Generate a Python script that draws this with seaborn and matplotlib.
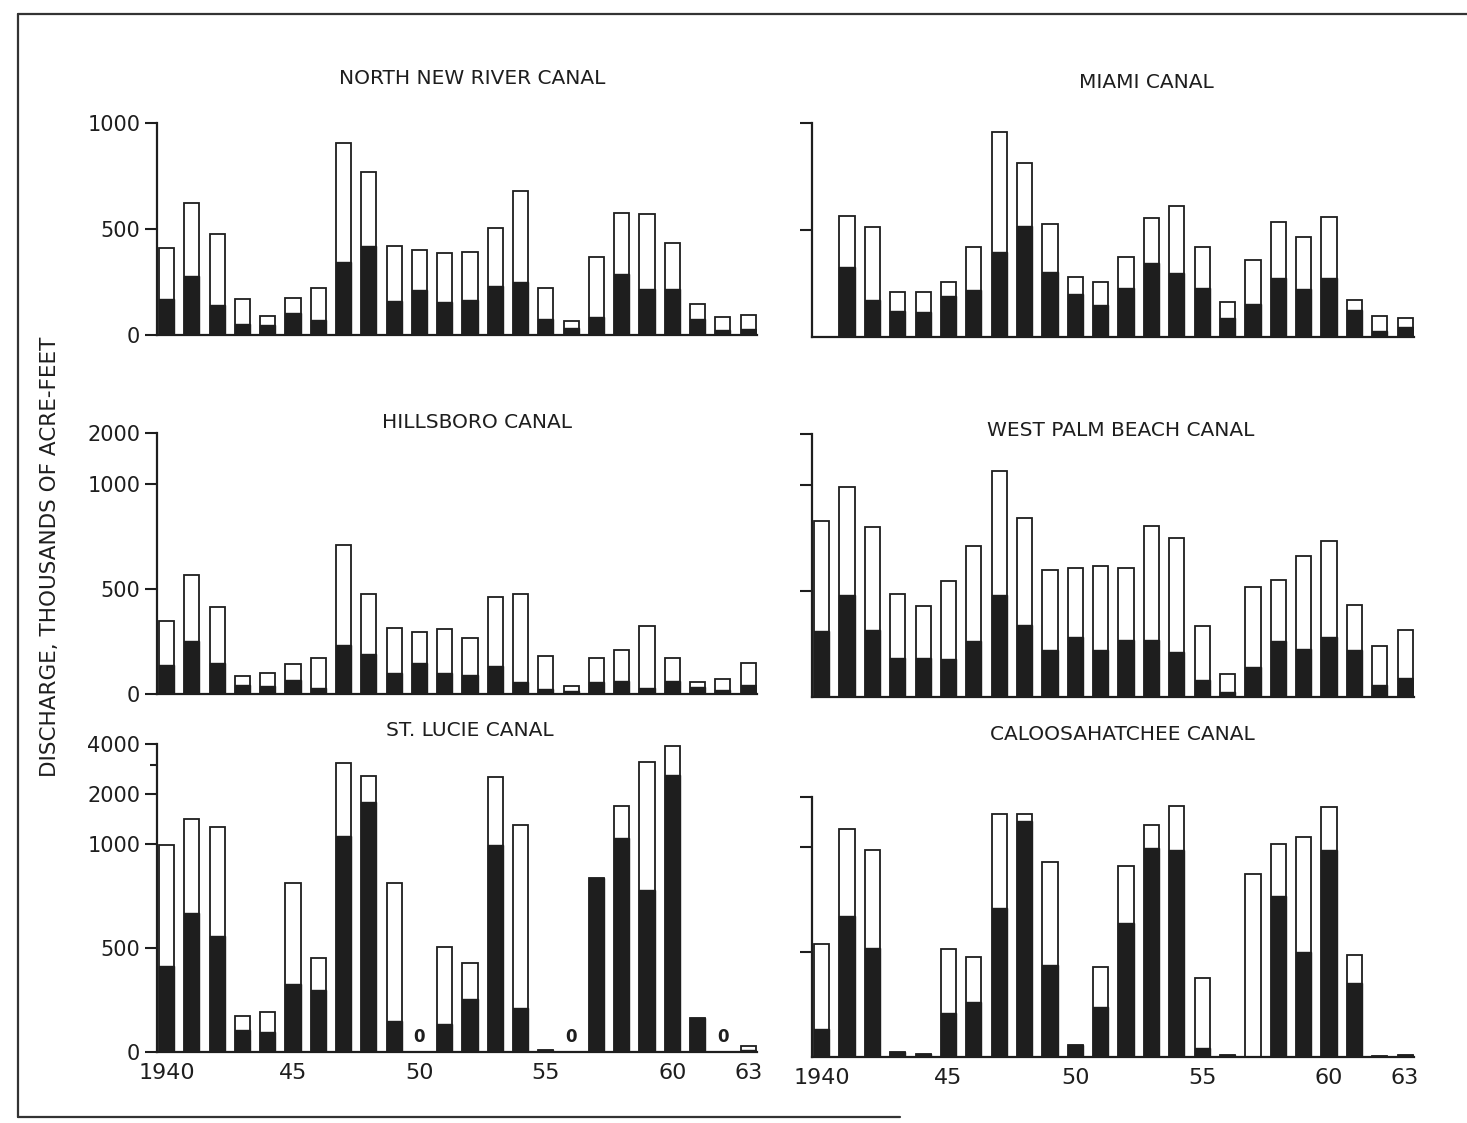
import numpy as np
import pandas as pd
import matplotlib
matplotlib.use("Agg")
import matplotlib.pyplot as plt
import seaborn as sns
from matplotlib.lines import Line2D

# years shown on every panel
years = [str(y) for y in range(1940, 1964)]
xtick_pos = [0, 5, 10, 15, 20, 23]
xtick_labels = ["1940", "45", "50", "55", "60", "63"]

# total discharge (white bar) and black part, thousands of acre-feet
nnr_total = [412, 621, 476, 171, 90, 176, 222, 907, 770, 421, 401, 385,
             390, 503, 681, 222, 68, 366, 577, 571, 432, 148, 85, 93]
nnr_black = [170, 278, 141, 50, 47, 102, 71, 346, 421, 162, 212, 157,
             165, 233, 252, 74, 31, 86, 286, 215, 215, 74, 24, 27]

miami_total = [np.nan, 567, 516, 211, 209, 256, 419, 959, 812, 530, 281, 259,
               372, 558, 614, 422, 164, 359, 536, 466, 562, 175, 97, 91]
miami_black = [np.nan, 328, 175, 122, 117, 191, 219, 398, 520, 305, 200, 148,
               230, 347, 297, 230, 89, 152, 277, 222, 277, 128, 27, 47]

hill_total = [345, 564, 411, 86, 98, 144, 169, 708, 477, 312, 294, 311,
              266, 462, 473, 180, 36, 172, 211, 322, 169, 55, 70, 145]
hill_black = [138, 250, 145, 44, 39, 66, 27, 231, 192, 102, 145, 98,
              91, 133, 55, 23, 15, 59, 64, 28, 64, 33, 17, 44]

wpb_total = [828, 990, 800, 486, 427, 546, 711, 1215, 845, 598, 610, 619,
             607, 808, 752, 333, 108, 519, 550, 666, 737, 433, 240, 317]
wpb_black = [310, 483, 316, 186, 186, 181, 263, 483, 341, 220, 285, 220,
             271, 271, 211, 80, 22, 142, 263, 228, 285, 220, 57, 90]

stl_total = [995, 1414, 1260, 173, 194, 811, 450, 3075, 2567, 811, 0, 505,
             430, 2531, 1301, 8, 0, 834, 1701, 3131, 3908, 161, 0, 30]
stl_black = [411, 666, 556, 105, 97, 326, 298, 1112, 1798, 148, 0, 134,
             255, 995, 210, 8, 0, 834, 1082, 779, 2615, 161, 0, 10]

calo_total = [537, 1290, 988, 22, 13, 515, 476, 1585, 1585, 930, 59, 431,
              911, 1368, 1773, 378, 8, 873, 1041, 1154, 1749, 488, 5, 8]
calo_black = [134, 671, 518, 22, 13, 210, 263, 713, 1430, 438, 59, 240,
              641, 995, 985, 42, 8, 0, 768, 503, 985, 352, 5, 8]

# y axis: linear up to 1000, log-compressed above
def fwd(v):
    v = np.asarray(v, dtype=float)
    return np.where(v <= 1000, v / 1000.0,
                    1 + 0.24 * np.log2(np.maximum(v, 1000) / 1000.0))

def inv(u):
    u = np.asarray(u, dtype=float)
    return np.where(u <= 1, u * 1000.0,
                    1000.0 * 2 ** ((np.clip(u, 1, 10) - 1) / 0.24))

W, H = 1467, 1123
INK = "#1e1e1e"

sns.set_theme(style="white")
plt.rcParams["font.family"] = ["DejaVu Sans"]

fig = plt.figure(figsize=(W / 100, H / 100), dpi=100)

panels = [
    # title, total, black, (x0, x1, top, bottom) px, ymax, ticks, labelled, title pos, bottom row
    ("NORTH NEW RIVER CANAL", nnr_total, nnr_black, (157, 757, 123, 335), 1000,
     [0, 500, 1000], True, (472, 78), False),
    ("MIAMI CANAL", miami_total, miami_black, (812, 1414, 123, 337), 1000,
     [500, 1000], False, (1146, 83), False),
    ("HILLSBORO CANAL", hill_total, hill_black, (157, 757, 433, 694), 2000,
     [0, 500, 1000, 2000], True, (477, 423), False),
    ("WEST PALM BEACH CANAL", wpb_total, wpb_black, (812, 1414, 434, 697), 2000,
     [500, 1000, 2000], False, (1121, 430), False),
    ("ST. LUCIE CANAL", stl_total, stl_black, (157, 757, 744, 1052), 4000,
     [0, 500, 1000, 2000, 4000], True, (470, 730), True),
    ("CALOOSAHATCHEE CANAL", calo_total, calo_black, (812, 1414, 797, 1057), 2000,
     [500, 1000, 2000], False, (1122, 735), True),
]

for title, total, black, box, ymax, ticks, labelled, tpos, bottom_row in panels:
    x0, x1, top, bot = box
    ax = fig.add_axes([x0 / W, 1 - bot / H, (x1 - x0) / W, (bot - top) / H])
    df = pd.DataFrame({"year": years, "total": total, "black": black}).dropna()

    sns.barplot(data=df, x="year", y="total", order=years, color="white",
                edgecolor=INK, linewidth=1.3, width=0.6, errorbar=None,
                saturation=1, ax=ax)
    sns.barplot(data=df, x="year", y="black", order=years, color=INK,
                edgecolor=INK, linewidth=1.0, width=0.6, errorbar=None,
                saturation=1, ax=ax)

    ax.set_yscale("function", functions=(fwd, inv))
    ax.set_ylim(0, ymax)
    ax.set_xlim(-0.38, 23.35)
    ax.set_yticks(ticks)
    if labelled:
        ax.set_yticklabels([str(t) for t in ticks], fontsize=15, color=INK)
    else:
        ax.set_yticklabels([])
    ax.yaxis.set_minor_locator(matplotlib.ticker.NullLocator())
    if ymax == 4000:
        ax.set_yticks([3000], minor=True)
        ax.tick_params(axis="y", which="minor", length=5, width=1.5,
                       color=INK, left=True)
    ax.tick_params(axis="y", which="major", length=9, width=1.5, color=INK,
                   left=True, pad=3)

    if bottom_row:
        ax.set_xticks(xtick_pos)
        ax.set_xticklabels(xtick_labels, fontsize=16, color=INK)
        ax.tick_params(axis="x", length=0, pad=8)
    else:
        ax.set_xticks([])

    # zero-discharge years marked with "0"
    for i, t in enumerate(total):
        if t == 0:
            ax.text(i, 70, "0", ha="center", va="center", fontsize=12,
                    fontweight="bold", color=INK)

    ax.set_xlabel("")
    ax.set_ylabel("")
    sns.despine(ax=ax, top=True, right=True)
    for s in ["left", "bottom"]:
        ax.spines[s].set_color(INK)
        ax.spines[s].set_linewidth(1.6)
    ax.set_facecolor("white")

    fig.text(tpos[0] / W, 1 - tpos[1] / H, title, ha="center", va="center",
             fontsize=14.5, color=INK)

fig.text(50 / W, 1 - 557 / H, "DISCHARGE, THOUSANDS OF ACRE-FEET",
         rotation=90, ha="center", va="center", fontsize=15.5, color=INK)

# page border from the scan
fig.add_artist(Line2D([18 / W, 1.0], [1 - 14 / H, 1 - 14 / H], color="#333333", lw=1.6))
fig.add_artist(Line2D([18 / W, 18 / W], [1 - 14 / H, 1 - 1117 / H], color="#333333", lw=1.6))
fig.add_artist(Line2D([18 / W, 900 / W], [1 - 1117 / H, 1 - 1117 / H], color="#333333", lw=1.6))

fig.savefig("out.png", dpi=100, facecolor="white")
